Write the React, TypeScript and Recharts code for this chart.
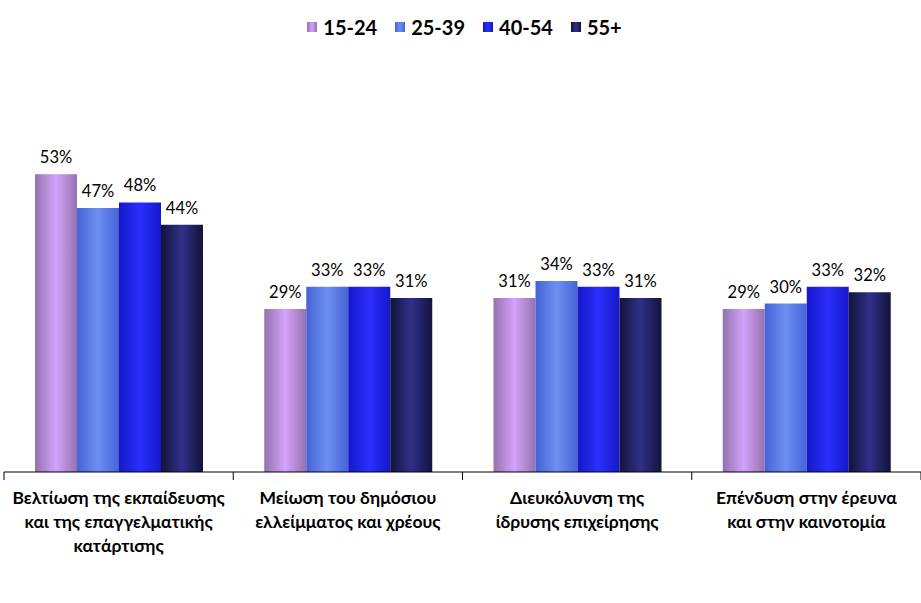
import React from 'react';
import { BarChart, Bar, XAxis, YAxis, Legend, LabelList } from 'recharts';

const categories = [
  'Βελτίωση της εκπαίδευσης\nκαι της επαγγελματικής\nκατάρτισης',
  'Μείωση του δημόσιου\nελλείμματος και χρέους',
  'Διευκόλυνση της\nίδρυσης επιχείρησης',
  'Επένδυση στην έρευνα\nκαι στην καινοτομία',
];
const seriesNames = ['15-24', '25-39', '40-54', '55+'];
const v1524 = [53, 29, 31, 29];
const v2539 = [47, 33, 34, 30];
const v4054 = [48, 33, 33, 33];
const v55 = [44, 31, 31, 32];

const data = categories.map((c, i) => ({
  cat: c,
  '15-24': v1524[i],
  '25-39': v2539[i],
  '40-54': v4054[i],
  '55+': v55[i],
}));

const grads = [
  { id: 'g1', edge: '#9472ae', mid: '#d4a2fa' },
  { id: 'g2', edge: '#4563d6', mid: '#6e8ff2' },
  { id: 'g3', edge: '#1518c8', mid: '#2b2ffc' },
  { id: 'g4', edge: '#13133a', mid: '#30308a' },
];

const FONT = 'Lato, "Open Sans", sans-serif';

const CatTick = (props: any) => {
  const { x, y, payload } = props;
  const lines = String(payload.value).split('\n');
  const half = 229.25 / 2;
  return (
    <g>
      <line x1={x - half} y1={y - 8} x2={x - half} y2={y} stroke="#000" strokeWidth={1} />
      {payload.index === categories.length - 1 && (
        <line x1={x + half} y1={y - 8} x2={x + half} y2={y} stroke="#000" strokeWidth={1} />
      )}
      {lines.map((l, i) => (
        <text
          key={i}
          x={x}
          y={y + 24 + i * 24}
          textAnchor="middle"
          fontFamily={FONT}
          fontWeight={700}
          fontSize={17.5}
          fill="#000"
        >
          {l}
        </text>
      ))}
    </g>
  );
};

const LegendContent = () => (
  <div style={{ display: 'flex', justifyContent: 'center', fontFamily: FONT, fontWeight: 700, fontSize: 20, paddingLeft: 8 }}>
    {seriesNames.map((n, i) => (
      <div key={n} style={{ display: 'flex', alignItems: 'center', marginRight: i < 3 ? 18 : 0 }}>
        <div
          style={{
            width: 10,
            height: 10,
            marginRight: 6,
            background: `linear-gradient(to right, ${grads[i].edge}, ${grads[i].mid}, ${grads[i].edge})`,
          }}
        />
        <span>{n}</span>
      </div>
    ))}
  </div>
);

export default function App() {
  return (
    <div style={{ position: 'absolute', left: 0, top: 0, width: 921, height: 603, background: '#fff' }}>
      <BarChart
        width={921}
        height={603}
        data={data}
        margin={{ top: 111, right: 0, left: 4, bottom: 0 }}
        barCategoryGap={31}
        barGap={0}
      >
        <defs>
          {grads.map((g) => (
            <linearGradient key={g.id} id={g.id} x1="0" y1="0" x2="1" y2="0">
              <stop offset="0%" stopColor={g.edge} />
              <stop offset="50%" stopColor={g.mid} />
              <stop offset="100%" stopColor={g.edge} />
            </linearGradient>
          ))}
        </defs>
        <Legend
          verticalAlign="top"
          content={<LegendContent />}
          wrapperStyle={{ position: 'absolute', top: 15, left: 0, width: 921 }}
          height={0}
        />
        <YAxis hide domain={[0, 60]} />
        <XAxis
          dataKey="cat"
          height={131}
          axisLine={{ stroke: '#000', strokeWidth: 1 }}
          tickLine={false}
          interval={0}
          tick={<CatTick />}
        />
        {seriesNames.map((n, i) => (
          <Bar key={n} dataKey={n} fill={`url(#${grads[i].id})`} isAnimationActive={false}>
            <LabelList
              dataKey={n}
              position="top"
              offset={11}
              formatter={(v: any) => `${v}%`}
              style={{ fontFamily: FONT, fontSize: 16.5, fill: '#000' }}
            />
          </Bar>
        ))}
      </BarChart>
    </div>
  );
}
